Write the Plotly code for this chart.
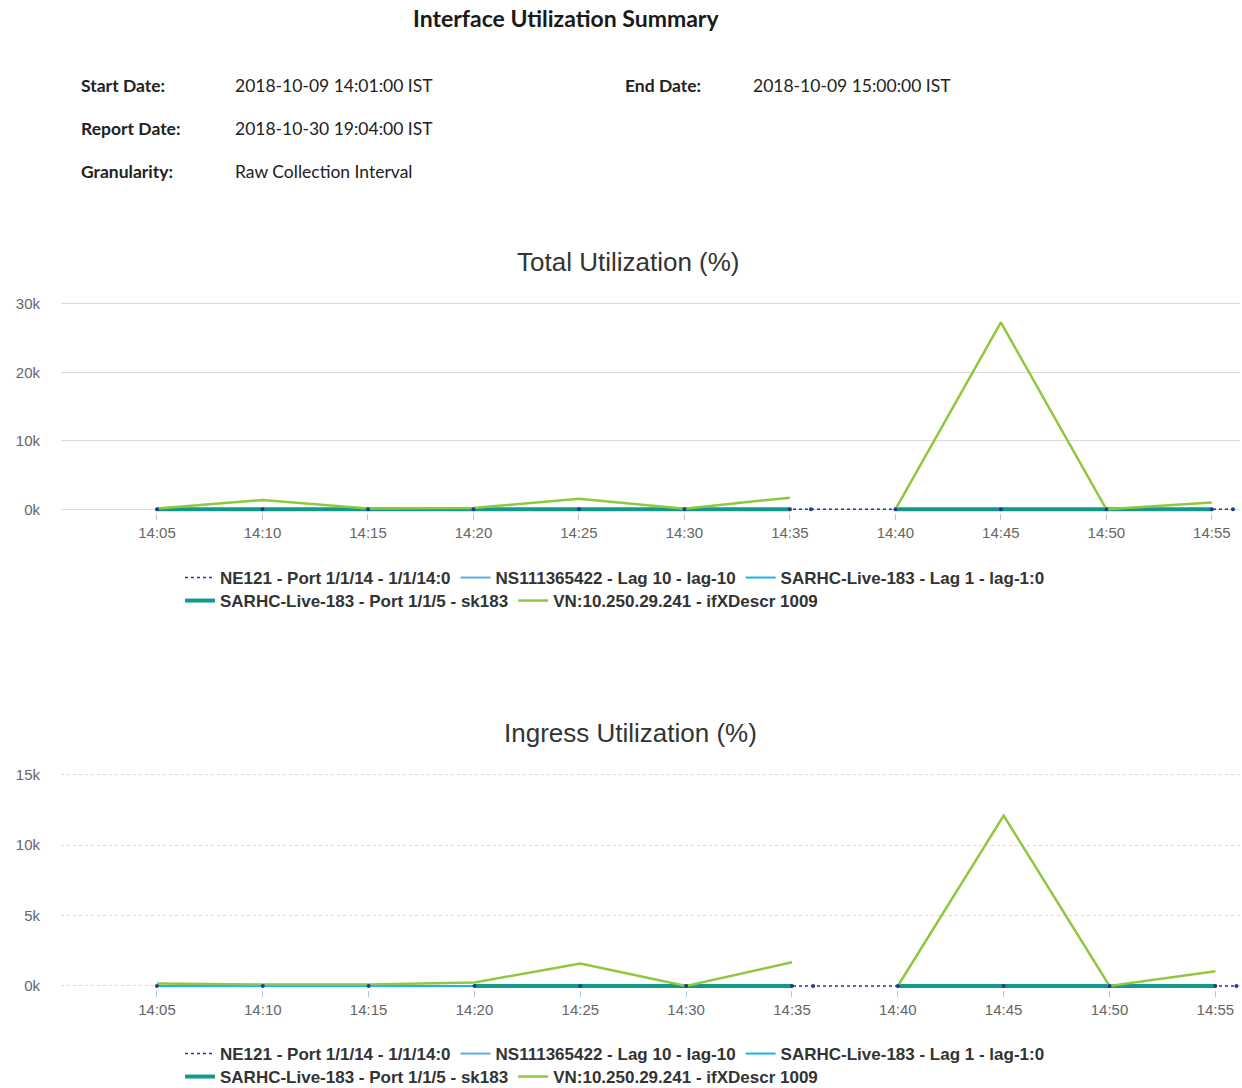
import plotly.graph_objects as go

# ---------------- data ----------------
times = ["14:05", "14:10", "14:15", "14:20", "14:25", "14:30", "14:35", "14:36",
         "14:40", "14:45", "14:50", "14:55", "14:56"]
date_prefix = "2018-10-09 "

series_names = [
    "NE121 - Port 1/1/14 - 1/1/14:0",
    "NS111365422 - Lag 10 - lag-10",
    "SARHC-Live-183 - Lag 1 - lag-1:0",
    "SARHC-Live-183 - Port 1/1/5 - sk183",
    "VN:10.250.29.241 - ifXDescr 1009",
]

# Total utilization (%)
total_ne121 = [0, 0, 0, 0, 0, 0, 0, 0, 0, 0, 0, 0, 0]
total_ns = [0, 0, 0, 0, 0, 0, 0, None, 0, 0, 0, 0, None]
total_sarhc_lag = [0, 0, 0, 0, 0, 0, 0, None, 0, 0, 0, 0, None]
total_sarhc_port = [0, 0, 0, 0, 0, 0, 0, None, 0, 0, 0, 0, None]
total_vn = [100, 1350, 100, 200, 1550, 80, 1700, None, 0, 27300, 0, 1000, None]

# Ingress utilization (%)
ingress_ne121 = [0, 0, 0, 0, 0, 0, 0, 0, 0, 0, 0, 0, 0]
ingress_ns = [0, 0, 0, 0, 0, 0, 0, None, 0, 0, 0, 0, None]
ingress_sarhc_lag = [0, 0, 0, 0, 0, 0, 0, None, 0, 0, 0, 0, None]
ingress_sarhc_port = [None, None, None, 0, 0, 0, 0, None, 0, 0, 0, 0, None]
ingress_vn = [180, 100, 100, 250, 1600, 0, 1680, None, 0, 12100, 0, 1050, None]

total_tickvals = [0, 10000, 20000, 30000]
total_ticktext = ["0k", "10k", "20k", "30k"]
ingress_tickvals = [0, 5000, 10000, 15000]
ingress_ticktext = ["0k", "5k", "10k", "15k"]

header_title = "Interface Utilization Summary"
header_rows = [
    ("Start Date:", "2018-10-09 14:01:00 IST", "End Date:", "2018-10-09 15:00:00 IST"),
    ("Report Date:", "2018-10-30 19:04:00 IST", None, None),
    ("Granularity:", "Raw Collection Interval", None, None),
]
chart_titles = ["Total Utilization (%)", "Ingress Utilization (%)"]

colors = ["#1f3c8f", "#5eaee6", "#1ab4ea", "#13998c", "#8fc83f"]

# ---------------- figure ----------------
W, H = 1242, 1088
x_vals = [date_prefix + t + ":00" for t in times]

def px_x(p):
    return p / W

def px_y(p):
    return (H - p) / H

fig = go.Figure()

def add_chart(data, xa, ya, leg_a, leg_b):
    ne, ns, lag, port, vn = data
    specs = [
        (ne, series_names[0], colors[0], 1.5, "dot", leg_a),
        (ns, series_names[1], colors[1], 2, "solid", leg_a),
        (lag, series_names[2], colors[2], 2, "solid", leg_a),
        (port, series_names[3], colors[3], 4, "solid", leg_b),
        (vn, series_names[4], colors[4], 2.5, "solid", leg_b),
    ]
    for vals, name, col, w, dash, leg in specs:
        fig.add_trace(go.Scatter(
            x=x_vals, y=vals, name=name, mode="lines",
            line=dict(color=col, width=w, dash=dash),
            xaxis=xa, yaxis=ya, legend=leg, connectgaps=False,
        ))
    # NE121 point markers (small dots)
    fig.add_trace(go.Scatter(
        x=x_vals, y=ne, mode="markers", showlegend=False,
        marker=dict(color=colors[0], size=4),
        xaxis=xa, yaxis=ya,
    ))

add_chart((total_ne121, total_ns, total_sarhc_lag, total_sarhc_port, total_vn),
          "x", "y", "legend", "legend2")
add_chart((ingress_ne121, ingress_ns, ingress_sarhc_lag, ingress_sarhc_port, ingress_vn),
          "x2", "y2", "legend3", "legend4")

axis_font = dict(family="Liberation Sans, Arial, sans-serif", size=15, color="#666666")

xcommon = dict(
    type="date", tickformat="%H:%M", dtick=300000,
    tick0=date_prefix + "14:05:00",
    showgrid=False, showline=False, zeroline=False,
    ticks="outside", ticklen=6, tickcolor="#a9cbe8", tickwidth=1,
    tickfont=axis_font, automargin=False,
)
ycommon = dict(
    showgrid=True, gridcolor="#d9d9d9", gridwidth=1,
    zeroline=False, showline=False, ticks="",
    ticklabelstandoff=20, tickfont=axis_font, automargin=False,
)

fig.update_layout(
    xaxis=dict(xcommon, domain=[px_x(61), px_x(1240)], anchor="y",
               range=[date_prefix + "14:00:27", date_prefix + "14:56:20"]),
    yaxis=dict(ycommon, domain=[px_y(512.7), px_y(301.9)], anchor="x",
               range=[-500, 30300], tickvals=total_tickvals, ticktext=total_ticktext),
    xaxis2=dict(xcommon, domain=[px_x(61), px_x(1240)], anchor="y2",
                range=[date_prefix + "14:00:28", date_prefix + "14:56:10"]),
    yaxis2=dict(ycommon, domain=[px_y(989.5), px_y(772.6)], anchor="x2",
                range=[-250, 15150], tickvals=ingress_tickvals, ticktext=ingress_ticktext,
                griddash="dot"),
)

leg_font = dict(family="Liberation Sans, Arial, sans-serif", size=17, color="#333333",
                weight="bold")
leg_common = dict(orientation="h", xanchor="left", yanchor="middle",
                  bgcolor="rgba(0,0,0,0)", font=leg_font, itemwidth=30,
                  itemclick=False, itemdoubleclick=False)
fig.update_layout(
    legend=dict(leg_common, x=px_x(180), y=px_y(578)),
    legend2=dict(leg_common, x=px_x(180), y=px_y(601)),
    legend3=dict(leg_common, x=px_x(180), y=px_y(1054)),
    legend4=dict(leg_common, x=px_x(180), y=px_y(1077)),
)

annotations = []
hdr_font = "Lato, Carlito, sans-serif"
annotations.append(dict(
    text="<b>" + header_title + "</b>", x=px_x(566), y=px_y(18),
    xref="paper", yref="paper", xanchor="center", yanchor="middle", showarrow=False,
    font=dict(family=hdr_font, size=23, color="#1a1a1a"),
))
row_y = [85, 128, 171]
hdr_size = 17.5
for (lab, val, lab2, val2), yy in zip(header_rows, row_y):
    annotations.append(dict(text="<b>" + lab + "</b>", x=px_x(79), y=px_y(yy),
                            xref="paper", yref="paper", xanchor="left", yanchor="middle",
                            showarrow=False, font=dict(family=hdr_font, size=hdr_size, color="#222222")))
    annotations.append(dict(text=val, x=px_x(233), y=px_y(yy),
                            xref="paper", yref="paper", xanchor="left", yanchor="middle",
                            showarrow=False, font=dict(family=hdr_font, size=hdr_size, color="#222222")))
    if lab2:
        annotations.append(dict(text="<b>" + lab2 + "</b>", x=px_x(623), y=px_y(yy),
                                xref="paper", yref="paper", xanchor="left", yanchor="middle",
                                showarrow=False, font=dict(family=hdr_font, size=hdr_size, color="#222222")))
        annotations.append(dict(text=val2, x=px_x(751), y=px_y(yy),
                                xref="paper", yref="paper", xanchor="left", yanchor="middle",
                                showarrow=False, font=dict(family=hdr_font, size=hdr_size, color="#222222")))

title_font = dict(family="Liberation Sans, Arial, sans-serif", size=26, color="#333333")
annotations.append(dict(text=chart_titles[0], x=px_x(628), y=px_y(262), xref="paper", yref="paper",
                        xanchor="center", yanchor="middle", showarrow=False, font=title_font))
annotations.append(dict(text=chart_titles[1], x=px_x(630), y=px_y(733), xref="paper", yref="paper",
                        xanchor="center", yanchor="middle", showarrow=False, font=title_font))

fig.update_layout(
    width=W, height=H, autosize=False,
    margin=dict(l=0, r=0, t=0, b=0, autoexpand=False),
    paper_bgcolor="white", plot_bgcolor="white",
    annotations=annotations,
    hovermode=False,
)

fig.write_html("out.html", config={"displayModeBar": False},
               post_script="document.body.style.margin='0';document.body.style.overflow='hidden';")
